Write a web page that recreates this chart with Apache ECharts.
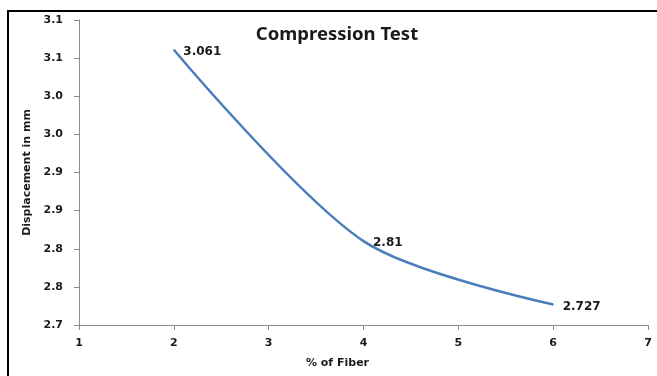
<!DOCTYPE html>
<html>
<head>
<meta charset="utf-8">
<script src="https://cdn.jsdelivr.net/npm/echarts@6/dist/echarts.min.js"></script>
<style>
  html, body { margin: 0; padding: 0; background: #fff; }
  #frame {
    position: absolute; left: 7px; top: 10px; width: 660px; height: 380px;
    border-left: 2px solid #000; border-top: 2px solid #000;
  }
  #chart { position: absolute; left: 0; top: 0; width: 657px; height: 376px; }
</style>
</head>
<body>
<div id="frame"></div>
<div id="chart"></div>
<script>
// % of fiber vs displacement (mm)
const fiber = [2, 4, 6]
const displacement = [3.061, 2.81, 2.727]
const xTicks = { min: 1, max: 7, interval: 1 }
const yTicks = { min: 2.7, max: 3.1, interval: 0.05 }

const labelFont = 'DejaVu Sans'
const chart = echarts.init(document.getElementById('chart'))

chart.setOption({
  animation: false,
  title: {
    text: 'Compression Test',
    left: 332,
    textAlign: 'center',
    top: 20,
    textStyle: { fontFamily: 'Noto Sans', fontWeight: 'bold', fontSize: 18.5, color: '#1a1a1a' }
  },
  grid: { left: 79, right: 9, top: 20, bottom: 51 },
  xAxis: {
    type: 'value',
    min: xTicks.min,
    max: xTicks.max,
    interval: xTicks.interval,
    name: '% of Fiber',
    nameLocation: 'middle',
    nameGap: 33,
    nameTextStyle: { fontFamily: labelFont, fontWeight: 'bold', fontSize: 11, color: '#1a1a1a', padding: [0, 52, 0, 0] },
    axisLine: { lineStyle: { color: '#8c8c8c', width: 1 } },
    axisTick: { length: 5, lineStyle: { color: '#8c8c8c' } },
    axisLabel: { margin: 13, fontFamily: labelFont, fontWeight: 'bold', fontSize: 11, color: '#1a1a1a' },
    splitLine: { show: false }
  },
  yAxis: {
    type: 'value',
    min: yTicks.min,
    max: yTicks.max,
    interval: yTicks.interval,
    name: 'Displacement in mm',
    nameLocation: 'middle',
    nameGap: 40,
    nameTextStyle: { fontFamily: labelFont, fontWeight: 'bold', fontSize: 11, color: '#1a1a1a' },
    axisLine: { show: true, lineStyle: { color: '#8c8c8c', width: 1 } },
    axisTick: { show: true, length: 5, lineStyle: { color: '#8c8c8c' } },
    axisLabel: {
      margin: 16,
      fontFamily: labelFont, fontWeight: 'bold', fontSize: 11, color: '#1a1a1a',
      formatter: v => (Math.round(v * 10 + 1e-9) / 10).toFixed(1)
    },
    splitLine: { show: false }
  },
  series: [{
    type: 'line',
    data: fiber.map((x, i) => [x, displacement[i]]),
    smooth: 0.3,
    symbol: 'circle',
    symbolSize: 1,
    itemStyle: { color: '#4a7ebb' },
    lineStyle: { color: '#4a7ebb', width: 2.5 },
    label: {
      show: true,
      position: 'right',
      distance: 9,
      offset: [0, 2],
      fontFamily: labelFont, fontWeight: 'bold', fontSize: 12, color: '#1a1a1a',
      formatter: p => String(p.value[1])
    }
  }]
})
</script>
</body>
</html>
